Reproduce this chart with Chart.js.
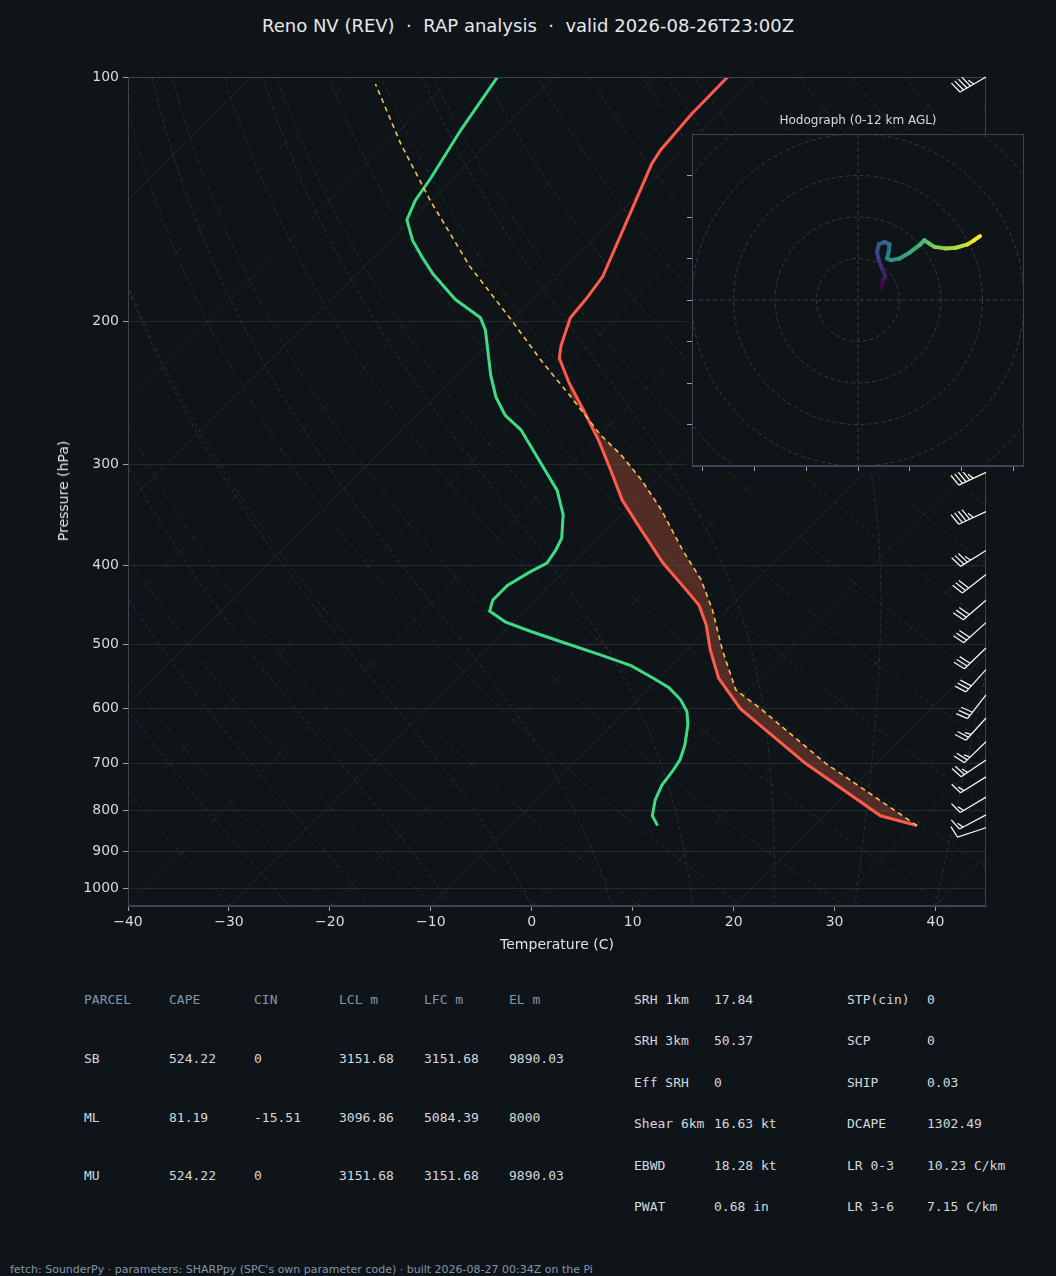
<!DOCTYPE html>
<html><head><meta charset="utf-8">
<script src="https://cdn.jsdelivr.net/npm/chart.js@4/dist/chart.umd.min.js"></script>
<style>
html,body{margin:0;padding:0;background:#0f1419;width:1056px;height:1276px;overflow:hidden;position:relative;font-family:'DejaVu Sans',sans-serif;}
.t{position:absolute;white-space:pre;}
.m{position:absolute;white-space:pre;font-family:'DejaVu Sans Mono',monospace;font-size:13px;color:#d4d8dc;}
.h{color:#8496ab;}
</style></head><body>
<div class="t" style="left:0;width:1056px;text-align:center;top:15px;font-size:18px;color:#e6e8ea;">Reno NV (REV)  ·  RAP analysis  ·  valid 2026-08-26T23:00Z</div>
<canvas id="main" style="position:absolute;left:0;top:0;width:1056px;height:960px"></canvas>
<div class="t" style="left:63px;top:491px;font-size:14px;color:#e0e2e4;transform:translate(-50%,-50%) rotate(-90deg);">Pressure (hPa)</div>
<div class="t" style="left:557px;top:944px;font-size:14px;color:#e0e2e4;transform:translate(-50%,-50%);">Temperature (C)</div>
<div class="t" style="left:858px;top:120px;font-size:12px;color:#d8dadc;transform:translate(-50%,-50%);">Hodograph (0-12 km AGL)</div>
<canvas id="hodo" style="position:absolute;left:686px;top:134px;width:338px;height:338px"></canvas>
<div id="tables"></div>
<div class="t" style="left:10px;top:1263px;font-size:11px;color:#8496ab;">fetch: SounderPy · parameters: SHARPpy (SPC's own parameter code) · built 2026-08-27 00:34Z on the Pi</div>
<script>
// ---- Data ----
const TEMP_P = [836,813,700,600,550,508,473,447,428,397,361,332,305,280,257,238,222,214,198,188,176,128,123,111,100];
const TEMP_C = [30.2,25.6,12.9,1.1,-4.1,-7.7,-10.6,-13.3,-16.1,-21.0,-26.5,-31.3,-35.4,-39.6,-44.1,-48.2,-51.6,-52.7,-54.5,-54.8,-55.4,-61.7,-62.2,-62.7,-62.8];
const DEW_P = [836,813,777,745,718,694,665,628,605,585,565,550,531,515,498,482,469,455,441,423,407,397,383,370,346,323,298,272,261,248,233,205,198,188,175,167,159,150,142,133,116,100];
const DEW_C = [4.5,3.0,1.7,0.9,0.6,0.2,-0.8,-2.5,-3.9,-5.7,-8.1,-10.6,-14.0,-18.1,-22.8,-27.3,-30.8,-33.4,-34.2,-34.2,-33.3,-32.5,-32.9,-33.5,-35.7,-38.7,-43.2,-48.3,-51.3,-54.0,-56.7,-61.7,-63.4,-67.7,-72.4,-75.1,-77.8,-80.4,-81.5,-82.2,-84.0,-85.6];
const PARCEL_P = [836,700,600,569,508,453,416,383,341,313,292,276,247,223,199,171,142,121,102];
const PARCEL_C = [30.2,14.9,3.1,-1.2,-6.5,-11.5,-15.6,-20.3,-26.5,-31.5,-35.9,-39.9,-46.8,-53.3,-60.2,-69.6,-80.0,-88.5,-97.0];
const EL_P = 240;
const BARB_P = [841,811,771,728,694,659,616,577,537,505,470,441,410,383,343,307,250,200,150,100];
const BARB_KT = [10,15,15,15,25,25,25,30,30,30,30,30,30,35,45,45,50,50,45,45];
const BARB_DIR = [252,242,239,238,236,226,222,218,222,226,228,229,232,238,245,245,245,245,242,240];
const HODO_U = [5.6,6.0,6.6,5.8,5.0,4.6,5.0,6.4,7.6,7.4,7.0,8.0,10.0,12.4,14.8,16.0,17.2,18.4,21.2,23.6,26.4,28.0,29.4];
const HODO_V = [2.8,4.8,5.6,7.6,9.6,11.6,13.4,14.0,13.4,11.6,10.0,9.6,10.0,11.4,13.2,14.4,13.6,12.8,12.4,12.6,13.4,14.4,15.4];
const X_TICKS = [-40,-30,-20,-10,0,10,20,30,40];
const P_TICKS = [100,200,300,400,500,600,700,800,900,1000];
const PARCEL_HDR = ['PARCEL','CAPE','CIN','LCL m','LFC m','EL m'];
const PARCEL_ROWS = [
 ['SB','524.22','0','3151.68','3151.68','9890.03'],
 ['ML','81.19','-15.51','3096.86','5084.39','8000'],
 ['MU','524.22','0','3151.68','3151.68','9890.03']];
const PARAMS_L = [['SRH 1km','17.84'],['SRH 3km','50.37'],['Eff SRH','0'],['Shear 6km','16.63 kt'],['EBWD','18.28 kt'],['PWAT','0.68 in']];
const PARAMS_R = [['STP(cin)','0'],['SCP','0'],['SHIP','0.03'],['DCAPE','1302.49'],['LR 0-3','10.23 C/km'],['LR 3-6','7.15 C/km']];

// ---- Tables ----
(function(){
  let h='';
  const cx=[84,169,254,339,424,509], ry=[1059,1118,1176];
  PARCEL_HDR.forEach((s,i)=>h+=`<div class="m h" style="left:${cx[i]}px;top:992px">${s}</div>`);
  PARCEL_ROWS.forEach((r,j)=>r.forEach((s,i)=>h+=`<div class="m" style="left:${cx[i]}px;top:${ry[j]-8}px">${s}</div>`));
  const py=[1000,1041,1083,1124,1166,1207];
  PARAMS_L.forEach((r,j)=>{h+=`<div class="m" style="left:634px;top:${py[j]-8}px">${r[0]}</div><div class="m" style="left:714px;top:${py[j]-8}px">${r[1]}</div>`;});
  PARAMS_R.forEach((r,j)=>{h+=`<div class="m" style="left:847px;top:${py[j]-8}px">${r[0]}</div><div class="m" style="left:927px;top:${py[j]-8}px">${r[1]}</div>`;});
  document.getElementById('tables').innerHTML=h;
})();

// ---- Skew-T helpers ----
const SKEW = 80.5;
const PBOT = 1050;
const sk = (T,p)=>T + SKEW*Math.log10(PBOT/p);
const pts = (P,T)=>P.map((p,i)=>({x:sk(T[i],p),y:p}));

function moistProfile(T0){
  const Rd=287,Cp=1005,Lv=2.501e6,eps=0.622;
  let T=T0+273.15, out=[];
  for(let p=PBOT;p>=100;p-=5){
    out.push([p,T-273.15]);
    const tc=T-273.15, es=6.112*Math.exp(17.67*tc/(tc+243.5)), rs=eps*es/(p-es);
    const dTdp=(1/p)*(Rd*T+Lv*rs)/(Cp+Lv*Lv*rs*eps/(Rd*T*T));
    T-=dTdp*5;
  }
  return out;
}

const bgLines = {
  id:'bg',
  beforeDatasetsDraw(chart){
    const {ctx,chartArea:a,scales:{x,y}}=chart;
    ctx.save(); ctx.beginPath(); ctx.rect(a.left,a.top,a.right-a.left,a.bottom-a.top); ctx.clip();
    const line=(arr,color,dash,w)=>{ctx.beginPath();ctx.strokeStyle=color;ctx.setLineDash(dash);ctx.lineWidth=w;
      arr.forEach((q,i)=>{const px=x.getPixelForValue(sk(q[1],q[0])),py=y.getPixelForValue(q[0]); i?ctx.lineTo(px,py):ctx.moveTo(px,py);});ctx.stroke();};
    for(let T=-130;T<=50;T+=10) line([[PBOT,T],[100,T]],'rgba(255,255,255,0.08)',[],1);
    for(let th=240;th<=480;th+=10){const arr=[];for(let p=PBOT;p>=100;p-=10)arr.push([p,th*Math.pow(p/1000,0.286)-273.15]);line(arr,'rgba(170,140,90,0.22)',[4,3],0.9);}
    for(let T0=-24;T0<=44;T0+=8) line(moistProfile(T0),'rgba(110,140,175,0.28)',[4,3],0.9);
    const poly=[];
    PARCEL_P.forEach((p,i)=>{if(p>=EL_P)poly.push([p,PARCEL_C[i]]);});
    for(let i=TEMP_P.length-1;i>=0;i--) if(TEMP_P[i]>=EL_P-2) poly.push([TEMP_P[i],TEMP_C[i]]);
    ctx.setLineDash([]);ctx.beginPath();
    poly.forEach((q,i)=>{const px=x.getPixelForValue(sk(q[1],q[0])),py=y.getPixelForValue(q[0]); i?ctx.lineTo(px,py):ctx.moveTo(px,py);});
    ctx.closePath(); ctx.fillStyle='rgba(150,70,50,0.5)'; ctx.fill();
    ctx.restore();
  },
  afterDatasetsDraw(chart){
    const {ctx,chartArea:a,scales:{y}}=chart;
    ctx.save();
    ctx.strokeStyle='#3a4452';ctx.lineWidth=1;ctx.strokeRect(a.left+0.5,a.top+0.5,a.right-a.left-1,a.bottom-a.top-1);
    ctx.strokeStyle='#f2f2f2'; ctx.lineWidth=1.3;
    BARB_P.forEach((p,i)=>{
      const x0=a.right, y0=y.getPixelForValue(p), d=BARB_DIR[i]*Math.PI/180;
      const sx=Math.sin(d), sy=-Math.cos(d), L=30;
      const ex=x0+sx*L, ey=y0+sy*L;
      ctx.beginPath();ctx.moveTo(x0,y0);ctx.lineTo(ex,ey);
      const fx=-sy, fy=sx;
      let spd=BARB_KT[i], pos=0;
      const feather=(len)=>{const bx=ex-sx*pos, by=ey-sy*pos;ctx.moveTo(bx,by);ctx.lineTo(bx+fx*len+sx*3,by+fy*len+sy*3);pos+=4;};
      while(spd>=10){feather(12);spd-=10;}
      if(spd>=5){if(pos===0)pos=4;feather(6);}
      ctx.stroke();
    });
    ctx.restore();
  }
};

new Chart(document.getElementById('main'),{
  type:'scatter',
  data:{datasets:[
    {data:pts(PARCEL_P,PARCEL_C),showLine:true,borderColor:'#f2c14e',borderWidth:1.6,borderDash:[5,4],pointRadius:0},
    {data:pts(DEW_P,DEW_C),showLine:true,borderColor:'#3ddc84',borderWidth:3,pointRadius:0},
    {data:pts(TEMP_P,TEMP_C),showLine:true,borderColor:'#ff5a4a',borderWidth:3,pointRadius:0}
  ]},
  options:{
    responsive:false,animation:false,devicePixelRatio:1,
    layout:{padding:{left:0,top:77,right:70,bottom:0}},
    plugins:{legend:{display:false},tooltip:{enabled:false}},
    scales:{
      x:{type:'linear',min:-40,max:45,
        afterBuildTicks:s=>{s.ticks=X_TICKS.map(v=>({value:v}));},
        afterFit:s=>{s.height=54;},
        ticks:{color:'#d8dadc',font:{family:'DejaVu Sans',size:14},padding:3,callback:v=>(v<0?'\u2212'+(-v):''+v)},
        grid:{drawOnChartArea:false,tickLength:5,tickColor:'#9aa3ad'},
        border:{color:'#3a4452'}},
      y:{type:'logarithmic',reverse:true,min:100,max:1050,
        afterBuildTicks:s=>{s.ticks=P_TICKS.map(v=>({value:v}));},
        afterFit:s=>{s.width=128;},
        ticks:{color:'#d8dadc',font:{family:'DejaVu Sans',size:14},padding:4,callback:v=>''+v},
        grid:{color:'rgba(255,255,255,0.09)',tickLength:5,tickColor:'#9aa3ad'},
        border:{color:'#3a4452'}}
    }
  },
  plugins:[bgLines]
});
</script>
<script>
const VIR=[[68,1,84],[59,82,139],[33,145,140],[94,201,98],[253,231,37]];
function viridis(t){t=Math.max(0,Math.min(1,t))*(VIR.length-1);const i=Math.min(VIR.length-2,Math.floor(t)),f=t-i;
  const c=VIR[i].map((v,k)=>Math.round(v+(VIR[i+1][k]-v)*f));return `rgb(${c[0]},${c[1]},${c[2]})`;}
const hodoBg={id:'hbg',
  beforeDraw(chart){const {ctx,width,height}=chart;ctx.save();ctx.fillStyle='#0f1419';ctx.fillRect(0,0,width,height);ctx.restore();},
  beforeDatasetsDraw(chart){
    const {ctx,chartArea:a,scales:{x,y}}=chart;
    ctx.save();ctx.beginPath();ctx.rect(a.left,a.top,a.right-a.left,a.bottom-a.top);ctx.clip();
    ctx.strokeStyle='rgba(150,165,185,0.35)';ctx.lineWidth=0.8;ctx.setLineDash([4,3]);
    const cx=x.getPixelForValue(0),cy=y.getPixelForValue(0),r1=x.getPixelForValue(10)-cx;
    for(let r=1;r<=5;r++){ctx.beginPath();ctx.arc(cx,cy,r*r1,0,Math.PI*2);ctx.stroke();}
    ctx.beginPath();ctx.moveTo(a.left,cy);ctx.lineTo(a.right,cy);ctx.moveTo(cx,a.top);ctx.lineTo(cx,a.bottom);ctx.stroke();
    ctx.restore();
  },
  afterDraw(chart){const {ctx,chartArea:a}=chart;ctx.save();ctx.strokeStyle='#3a4452';ctx.lineWidth=1;
    ctx.strokeRect(a.left+0.5,a.top+0.5,a.right-a.left-1,a.bottom-a.top-1);ctx.restore();}
};
const n=HODO_U.length;
new Chart(document.getElementById('hodo'),{
  type:'scatter',
  data:{datasets:[{data:HODO_U.map((u,i)=>({x:u,y:HODO_V[i]})),showLine:true,borderWidth:4,pointRadius:0,borderCapStyle:'round',
    borderColor:viridis(0),segment:{borderColor:c=>viridis(c.p0DataIndex/(n-2))}}]},
  options:{responsive:false,animation:false,devicePixelRatio:1,layout:{padding:0},
    plugins:{legend:{display:false},tooltip:{enabled:false}},
    scales:{
      x:{type:'linear',min:-40,max:40,afterBuildTicks:s=>{s.ticks=[-37.5,-25,-12.5,0,12.5,25,37.5].map(v=>({value:v}));},
        afterFit:s=>{s.height=6;},ticks:{display:false},grid:{drawOnChartArea:false,tickLength:5,tickColor:'#9aa3ad'},border:{color:'#3a4452'}},
      y:{type:'linear',min:-40,max:40,afterBuildTicks:s=>{s.ticks=[-30,-20,-10,0,10,20,30].map(v=>({value:v}));},
        afterFit:s=>{s.width=6;},ticks:{display:false},grid:{drawOnChartArea:false,tickLength:5,tickColor:'#9aa3ad'},border:{color:'#3a4452'}}
    }},
  plugins:[hodoBg]
});
</script>
</body></html>
